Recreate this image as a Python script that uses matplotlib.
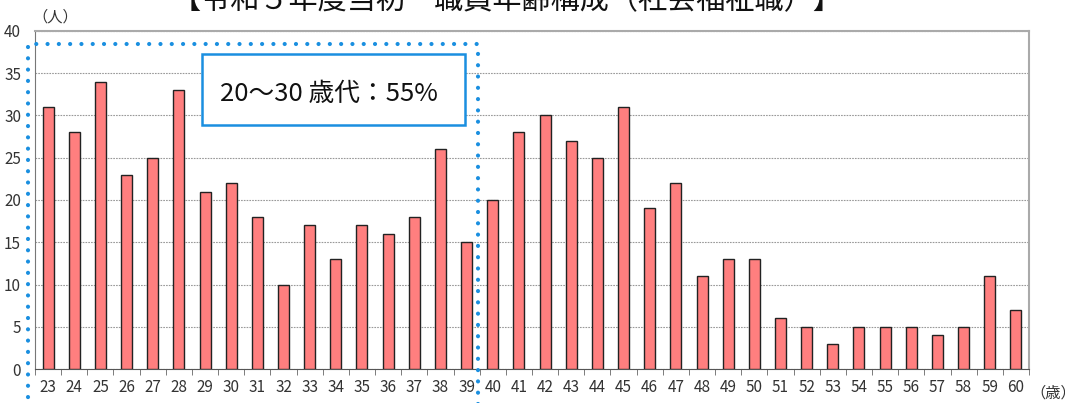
import numpy as np
import matplotlib.pyplot as plt
from matplotlib.patches import Rectangle

plt.rcParams['font.family'] = ['Noto Sans CJK JP', 'DejaVu Sans']

# Data
ages = list(range(23, 61))
counts = [31, 28, 34, 23, 25, 33, 21, 22, 18, 10, 17, 13, 17, 16, 18, 26, 15,
          20, 28, 30, 27, 25, 31, 19, 22, 11, 13, 13, 6, 5, 3, 5, 5, 5, 4, 5, 11, 7]
title = "【令和５年度当初　職員年齢構成（社会福祉職）】"
note = "20～30 歳代：55%"

W, H = 1065, 403
fig = plt.figure(figsize=(W / 100, H / 100), dpi=100)
# axes box in pixels: left 35, right 1029, top 31, bottom 369
ax = fig.add_axes([35 / W, 1 - 369 / H, (1029 - 35) / W, (369 - 31) / H])

x = np.arange(len(ages))
ax.bar(x, counts, width=0.42, color='#FF7F7F', edgecolor='#222222', linewidth=1.0, zorder=3)

ax.set_xlim(-0.5, len(ages) - 0.5)
ax.set_ylim(0, 40)
ax.set_yticks(range(0, 41, 5))
ax.set_xticks(x)
ax.set_xticklabels([str(a) for a in ages], fontsize=11, color='#333333')
ax.set_xticks(np.arange(-0.5, len(ages), 1), minor=True)
ax.tick_params(axis='x', which='major', length=0, pad=7)
ax.tick_params(axis='x', which='minor', length=4, color='#666666', direction='out')
ax.tick_params(axis='y', length=0, labelsize=11, labelcolor='#333333', pad=10)
ax.yaxis.grid(True, linestyle=(0, (1.5, 1)), color='#999999', linewidth=0.8, zorder=0)

for side in ['top', 'right']:
    ax.spines[side].set_color('#AAAAAA')
    ax.spines[side].set_linewidth(1.5)
ax.spines['left'].set_color('#777777')
ax.spines['bottom'].set_color('#555555')

# unit labels
fig.text(55 / W, 1 - 17 / H, "（人）", ha='center', va='center', fontsize=11, color='#333333')
fig.text(1053 / W, 1 - 393 / H, "（歳）", ha='center', va='center', fontsize=11, color='#333333')

# title (cut off at the top edge)
fig.text(507 / W, 1 - 8 / H, title, ha='center', va='baseline', fontsize=21, color='#111111')

# blue dotted highlight box (extends past bottom)
hl = Rectangle((28 / W, -0.1), (478 - 28) / W, (1 - 44 / H) + 0.1, transform=fig.transFigure,
               fill=False, edgecolor='#1A8FE0', linewidth=3,
               linestyle=(0, (0.01, 2.7)), capstyle='round', clip_on=False, zorder=5)
fig.patches.append(hl)

# annotation box
nb = Rectangle((202 / W, 1 - 125 / H), (465 - 202) / W, (125 - 54) / H, transform=fig.transFigure,
               facecolor='white', edgecolor='#1A8FE0', linewidth=1.8, zorder=6)
fig.patches.append(nb)
fig.text(329 / W, 1 - 94 / H, note, ha='center', va='center', fontsize=18.5, color='#111111',
         zorder=7)

fig.savefig('out.png', dpi=100)
